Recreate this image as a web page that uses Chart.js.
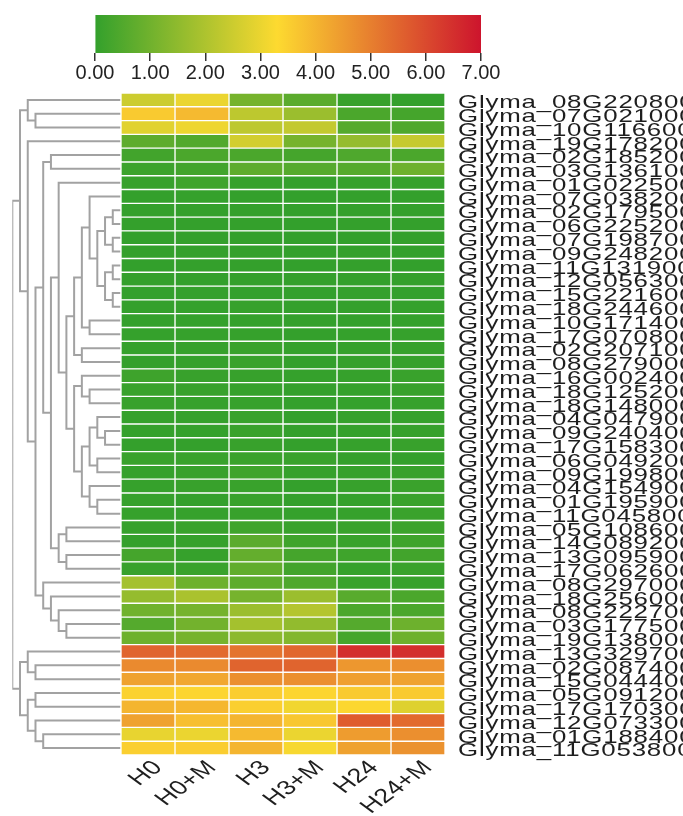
<!DOCTYPE html>
<html>
<head>
<meta charset="utf-8">
<title>Expression heatmap</title>
<script src="https://cdn.jsdelivr.net/npm/chart.js@4.4.1/dist/chart.umd.min.js"></script>
<style>
  html, body { margin: 0; padding: 0; background: #ffffff; }
  #wrap { position: relative; width: 683px; height: 816px; overflow: hidden; }
  #wrap canvas { position: absolute; left: 0; top: 0; }
</style>
</head>
<body>
<div id="wrap">
  <canvas id="heat" width="683" height="816"></canvas>
  <canvas id="tree" width="683" height="816"></canvas>
  <canvas id="scale" width="683" height="100"></canvas>
</div>
<script>
// ---- data -------------------------------------------------------------
const samples = ['H0', 'H0+M', 'H3', 'H3+M', 'H24', 'H24+M'];

const genes = [
  'Glyma_08G220800', 'Glyma_07G021000', 'Glyma_10G116600', 'Glyma_19G178200',
  'Glyma_02G185200', 'Glyma_03G136100', 'Glyma_01G022500', 'Glyma_07G038200',
  'Glyma_02G179500', 'Glyma_06G225200', 'Glyma_07G198700', 'Glyma_09G248200',
  'Glyma_11G131900', 'Glyma_12G056300', 'Glyma_15G221600', 'Glyma_18G244600',
  'Glyma_10G171400', 'Glyma_17G070800', 'Glyma_02G207100', 'Glyma_08G279000',
  'Glyma_16G002400', 'Glyma_18G125200', 'Glyma_18G148000', 'Glyma_04G047900',
  'Glyma_09G240400', 'Glyma_17G158300', 'Glyma_06G049200', 'Glyma_09G199800',
  'Glyma_04G154900', 'Glyma_01G195900', 'Glyma_11G045800', 'Glyma_05G108600',
  'Glyma_14G089200', 'Glyma_13G095900', 'Glyma_17G062600', 'Glyma_08G297000',
  'Glyma_18G256000', 'Glyma_08G222700', 'Glyma_03G177500', 'Glyma_19G138000',
  'Glyma_13G329700', 'Glyma_02G087400', 'Glyma_15G044400', 'Glyma_05G091200',
  'Glyma_17G170300', 'Glyma_12G073300', 'Glyma_01G188400', 'Glyma_11G053800'
];

// expression per sample, one value per gene (same order as genes)
const H0 = [
  2.50, 3.60, 2.85, 0.70, 0.25, 0.15, 0.08, 0.02, 0.01, 0.01, 0.00, 0.01,
  0.00, 0.01, 0.00, 0.02, 0.02, 0.03, 0.03, 0.02, 0.18, 0.10, 0.08, 0.03,
  0.03, 0.02, 0.10, 0.03, 0.05, 0.05, 0.05, 0.05, 0.02, 0.30, 0.08, 1.85,
  1.60, 1.00, 0.55, 0.95, 5.50, 4.80, 4.35, 3.45, 4.00, 4.35, 2.95, 3.50
];
const H0M = [
  3.00, 3.90, 3.05, 0.50, 0.40, 0.25, 0.20, 0.03, 0.02, 0.01, 0.02, 0.01,
  0.01, 0.00, 0.01, 0.03, 0.04, 0.05, 0.05, 0.04, 0.08, 0.08, 0.05, 0.04,
  0.03, 0.01, 0.10, 0.08, 0.08, 0.02, 0.05, 0.10, 0.05, 0.05, 0.10, 0.95,
  1.95, 1.10, 1.05, 1.10, 5.40, 4.80, 4.25, 3.40, 3.95, 3.80, 3.00, 3.55
];
const H3 = [
  1.10, 2.25, 2.25, 2.60, 0.40, 0.70, 0.05, 0.02, 0.01, 0.02, 0.01, 0.02,
  0.01, 0.02, 0.00, 0.05, 0.03, 0.05, 0.10, 0.10, 0.06, 0.05, 0.06, 0.10,
  0.12, 0.08, 0.12, 0.20, 0.10, 0.10, 0.08, 0.20, 0.65, 0.80, 0.75, 0.70,
  1.10, 1.70, 1.85, 1.45, 5.20, 5.50, 4.70, 3.55, 3.50, 4.00, 3.90, 4.00
];
const H3M = [
  0.65, 1.70, 2.35, 1.10, 0.30, 0.55, 0.02, 0.00, 0.00, 0.00, 0.00, 0.00,
  0.00, 0.01, 0.00, 0.01, 0.01, 0.02, 0.03, 0.02, 0.03, 0.02, 0.02, 0.02,
  0.02, 0.01, 0.10, 0.05, 0.02, 0.02, 0.03, 0.10, 0.20, 0.30, 0.25, 0.45,
  1.70, 2.10, 1.55, 1.30, 5.45, 5.50, 4.70, 3.40, 3.10, 3.65, 3.00, 3.20
];
const H24 = [
  0.08, 0.40, 0.55, 1.60, 0.45, 0.55, 0.05, 0.02, 0.01, 0.01, 0.00, 0.01,
  0.01, 0.00, 0.01, 0.02, 0.02, 0.03, 0.04, 0.03, 0.05, 0.04, 0.03, 0.03,
  0.04, 0.05, 0.02, 0.05, 0.06, 0.03, 0.05, 0.10, 0.10, 0.20, 0.03, 0.10,
  0.60, 0.40, 0.55, 0.30, 6.50, 4.55, 4.40, 3.60, 3.35, 5.65, 4.45, 4.35
];
const H24M = [
  0.02, 0.30, 0.45, 2.40, 0.40, 0.95, 0.05, 0.02, 0.01, 0.01, 0.01, 0.00,
  0.00, 0.01, 0.00, 0.03, 0.03, 0.05, 0.05, 0.05, 0.10, 0.08, 0.05, 0.04,
  0.05, 0.08, 0.02, 0.08, 0.12, 0.12, 0.12, 0.15, 0.20, 0.25, 0.10, 0.08,
  0.40, 0.40, 0.95, 0.95, 6.50, 4.70, 4.35, 3.60, 2.80, 5.40, 4.70, 4.65
];
const sampleValues = [H0, H0M, H3, H3M, H24, H24M];

// hierarchical clustering of the genes: [left, right, height];
// ids < 48 are genes (row order), id 48 + k is the k-th merge
const linkage = [
  [1, 2, 11],   [0, 48, 12],  [4, 5, 9],    [8, 9, 1],    [10, 11, 1],
  [51, 52, 2],  [12, 13, 1],  [14, 15, 1],  [54, 55, 2],  [53, 56, 3],
  [7, 57, 4],   [16, 17, 4],  [58, 59, 5],  [18, 19, 5],  [60, 61, 6],
  [21, 22, 4],  [20, 63, 5],  [24, 25, 2],  [23, 65, 3],  [26, 27, 3],
  [66, 67, 4],  [29, 30, 3],  [28, 69, 4],  [68, 70, 5],  [64, 71, 6],
  [62, 72, 7],  [6, 73, 8],   [31, 32, 7],  [33, 34, 7],  [75, 76, 8],
  [74, 77, 9],  [50, 78, 10], [38, 39, 7],  [37, 80, 8],  [36, 81, 9],
  [35, 82, 10], [79, 83, 11], [3, 84, 12],  [49, 85, 13], [41, 42, 11],
  [40, 87, 12], [43, 44, 11], [46, 47, 10], [45, 90, 11], [89, 91, 12],
  [88, 92, 13], [86, 93, 14]
];

// colour scale
const scaleTicks = [0, 1, 2, 3, 4, 5, 6, 7];
const colorStops = [0, 3.3, 7];
const stopColors = ['#33a02c', '#fdda30', '#cd142d'];

// ---- helpers ----------------------------------------------------------
const FONT = "'Liberation Sans', Arial, sans-serif";

function hexToRgb(h) {
  const n = parseInt(h.slice(1), 16);
  return [(n >> 16) & 255, (n >> 8) & 255, n & 255];
}

function colorFor(v) {
  const last = colorStops.length - 1;
  for (let i = 1; i <= last; i++) {
    if (v <= colorStops[i] || i === last) {
      let t = (v - colorStops[i - 1]) / (colorStops[i] - colorStops[i - 1]);
      t = Math.min(Math.max(t, 0), 1);
      const a = hexToRgb(stopColors[i - 1]);
      const b = hexToRgb(stopColors[i]);
      const c = a.map((x, k) => Math.round(x + (b[k] - x) * t));
      return `rgb(${c[0]},${c[1]},${c[2]})`;
    }
  }
}

// Scales whose tick labels are drawn horizontally widened (and optionally letter-spaced)
function withWideLabels(Base, id, stretch, spacing) {
  class Wide extends Base {
    drawLabels(chartArea) {
      const ctx = this.ctx;
      const items = this.getLabelItems(chartArea);
      for (const item of items) {
        const o = item.options;
        ctx.save();
        ctx.translate(o.translation[0], o.translation[1]);
        ctx.scale(stretch, 1);
        ctx.rotate(o.rotation);
        ctx.font = item.font.string;
        ctx.fillStyle = o.color;
        ctx.textAlign = o.textAlign;
        ctx.textBaseline = o.textBaseline;
        if ('letterSpacing' in ctx) ctx.letterSpacing = spacing + 'px';
        const lines = Array.isArray(item.label) ? item.label : [item.label];
        lines.forEach((line, i) => {
          ctx.fillText(line, 0, item.textOffset + i * item.font.lineHeight);
        });
        ctx.restore();
      }
    }
  }
  Wide.id = id;
  return Wide;
}

Chart.register(
  withWideLabels(Chart.CategoryScale, 'wideCategory', 1.36, 0.6),
  withWideLabels(Chart.LinearScale, 'wideLinear', 1.36, 0)
);

const W = 683, H = 816;
const area = { left: 121, right: 445, top: 93, bottom: 755 };

// ---- heatmap ----------------------------------------------------------
new Chart(document.getElementById('heat'), {
  type: 'bar',
  data: {
    labels: genes,
    datasets: samples.map((name, j) => ({
      label: name,
      data: genes.map(() => [j, j + 1]),
      backgroundColor: sampleValues[j].map(colorFor),
      borderColor: '#ffffff',
      borderWidth: 1,
      borderSkipped: false,
      grouped: false,
      barPercentage: 1,
      categoryPercentage: 1
    }))
  },
  options: {
    indexAxis: 'y',
    responsive: false,
    animation: false,
    devicePixelRatio: 1,
    layout: { padding: { left: area.left, top: area.top, right: 0, bottom: 0 } },
    plugins: { legend: { display: false }, tooltip: { enabled: false } },
    scales: {
      x: {
        type: 'wideLinear',
        position: 'bottom',
        min: 0,
        max: samples.length,
        grid: { display: false, drawTicks: false },
        border: { display: false },
        afterBuildTicks: s => { s.ticks = samples.map((_, i) => ({ value: i + 0.5 })); },
        afterFit: s => { s.height = H - area.bottom; s.paddingLeft = 0; s.paddingRight = 0; },
        ticks: {
          autoSkip: false,
          minRotation: 45,
          maxRotation: 45,
          padding: 1,
          labelOffset: 7,
          color: '#1e1e1e',
          font: { family: FONT, size: 20 },
          callback: (v, i) => samples[i]
        }
      },
      y: {
        type: 'wideCategory',
        position: 'right',
        grid: { display: false, drawTicks: false },
        border: { display: false },
        afterFit: s => { s.width = W - area.right; s.paddingTop = 0; s.paddingBottom = 0; },
        ticks: {
          autoSkip: false,
          padding: 13,
          labelOffset: 3,
          color: '#1e1e1e',
          font: { family: FONT, size: 19 }
        }
      }
    }
  }
});

// ---- dendrogram -------------------------------------------------------
const nodeY = genes.map((_, i) => i);
const nodeH = genes.map(() => 0);
const treePoints = [];
linkage.forEach(([a, b, h]) => {
  treePoints.push(
    { x: nodeH[a], y: nodeY[a] },
    { x: h, y: nodeY[a] },
    { x: h, y: nodeY[b] },
    { x: nodeH[b], y: nodeY[b] },
    { x: null, y: null }
  );
  nodeY.push((nodeY[a] + nodeY[b]) / 2);
  nodeH.push(h);
});
const maxHeight = Math.max(...linkage.map(r => r[2]));

new Chart(document.getElementById('tree'), {
  type: 'scatter',
  data: {
    datasets: [{
      data: treePoints,
      showLine: true,
      spanGaps: false,
      borderColor: '#a2a2a2',
      borderWidth: 2,
      pointRadius: 0,
      tension: 0
    }]
  },
  options: {
    responsive: false,
    animation: false,
    devicePixelRatio: 1,
    layout: { padding: { left: 12.3, right: W - 120.5, top: area.top, bottom: H - area.bottom } },
    plugins: { legend: { display: false }, tooltip: { enabled: false } },
    scales: {
      x: { type: 'linear', reverse: true, min: 0, max: maxHeight, display: false },
      y: { type: 'linear', reverse: true, min: -0.5, max: genes.length - 0.5, display: false }
    }
  }
});

// ---- colour key -------------------------------------------------------
const vMin = scaleTicks[0], vMax = scaleTicks[scaleTicks.length - 1];
new Chart(document.getElementById('scale'), {
  type: 'bar',
  data: {
    labels: [''],
    datasets: [{
      data: [[vMin, vMax]],
      borderWidth: 0,
      barPercentage: 1,
      categoryPercentage: 1,
      backgroundColor: c => {
        const chart = c.chart;
        const xs = chart.scales.x;
        if (!xs || !chart.chartArea) return stopColors[0];
        const g = chart.ctx.createLinearGradient(xs.getPixelForValue(vMin), 0, xs.getPixelForValue(vMax), 0);
        colorStops.forEach((v, i) => g.addColorStop((v - vMin) / (vMax - vMin), stopColors[i]));
        return g;
      }
    }]
  },
  options: {
    indexAxis: 'y',
    responsive: false,
    animation: false,
    devicePixelRatio: 1,
    layout: { padding: { left: 95, right: W - 481, top: 15, bottom: 0 } },
    plugins: { legend: { display: false }, tooltip: { enabled: false } },
    scales: {
      y: { display: false },
      x: {
        type: 'linear',
        position: 'bottom',
        min: vMin,
        max: vMax,
        border: { display: false },
        grid: { drawOnChartArea: false, drawTicks: true, tickLength: 8, color: '#333333', lineWidth: 1.5 },
        afterBuildTicks: s => { s.ticks = scaleTicks.map(v => ({ value: v })); },
        afterFit: s => { s.height = 100 - 53; s.paddingLeft = 0; s.paddingRight = 0; },
        ticks: {
          autoSkip: false,
          maxRotation: 0,
          padding: 0,
          color: '#222222',
          font: { family: FONT, size: 20 },
          callback: v => Number(v).toFixed(2)
        }
      }
    }
  }
});
</script>
</body>
</html>
